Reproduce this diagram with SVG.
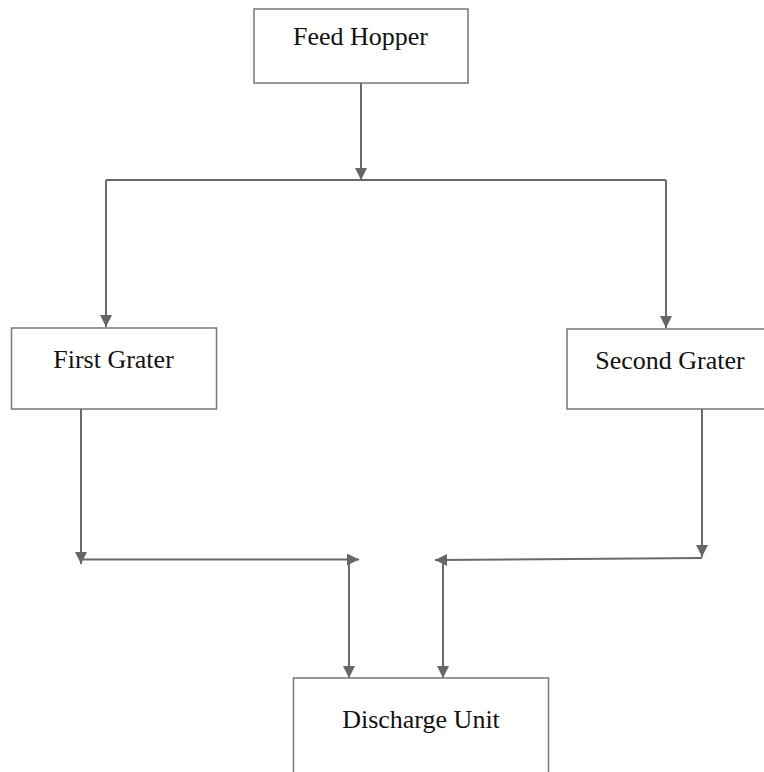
<svg xmlns="http://www.w3.org/2000/svg" width="764" height="772" viewBox="0 0 764 772">
<style>
.box{fill:#fff;stroke:#777;stroke-width:1.5}
.lbl{font-family:"Liberation Serif","Times New Roman",serif;font-size:26px;fill:#111;text-anchor:middle}
.con{fill:none;stroke:#6a6a6a;stroke-width:2}
</style>
<defs>
<marker id="ah" markerUnits="userSpaceOnUse" markerWidth="13" markerHeight="13" refX="12" refY="6" orient="auto">
<path d="M0,0 L12,6 L0,12 z" fill="#666"/>
</marker>
</defs>
<rect width="764" height="772" fill="#fff"/>
<g id="feed-hopper">
<rect class="box" x="254" y="9" width="214" height="74"/>
<text class="lbl" x="360.5" y="45">Feed Hopper</text>
</g>
<g id="first-grater">
<rect class="box" x="11.5" y="328" width="205" height="81"/>
<text class="lbl" x="113.5" y="368">First Grater</text>
</g>
<g id="second-grater">
<rect class="box" x="567" y="329" width="206" height="80"/>
<text class="lbl" x="670" y="369">Second Grater</text>
</g>
<g id="discharge-unit">
<rect class="box" x="293.5" y="678" width="255" height="110"/>
<text class="lbl" x="421" y="728">Discharge Unit</text>
</g>
<g id="connectors">
<path class="con" d="M361,83 V180" marker-end="url(#ah)"/>
<path class="con" d="M106,180 H666"/>
<path class="con" d="M106,180 V327" marker-end="url(#ah)"/>
<path class="con" d="M666,180 V328" marker-end="url(#ah)"/>
<path class="con" d="M81,409 V564" marker-end="url(#ah)"/>
<path class="con" d="M81,559.5 H359" marker-end="url(#ah)"/>
<path class="con" d="M349,562 V678" marker-end="url(#ah)"/>
<path class="con" d="M702,409 V557" marker-end="url(#ah)"/>
<path class="con" d="M702,558 L435,560" marker-end="url(#ah)"/>
<path class="con" d="M443,561 V678" marker-end="url(#ah)"/>
</g>
</svg>
